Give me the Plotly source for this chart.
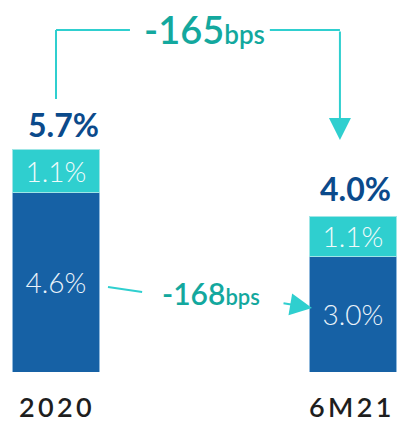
import plotly.graph_objects as go

categories = ["2020", "6M21"]
core_values = [4.6, 2.95]
other_values = [1.1, 1.05]
core_labels = ["4.6%", "3.0%"]
other_labels = ["1.1%", "1.1%"]
total_labels = ["5.7%", "4.0%"]
change_total = "-165"
change_core = "-168"

DARK = "#1661a5"
LIGHT = "#2fcfcf"
TEAL_TEXT = "#13a89e"
NAVY = "#0b4a8b"
FONT = "Lato"

xs = list(range(len(categories)))
totals = [a + b for a, b in zip(core_values, other_values)]

fig = go.Figure()
fig.add_trace(go.Bar(
    x=xs, y=core_values, width=0.29, marker=dict(color=DARK, line=dict(color="#8fb8dc", width=1)),
    text=core_labels, textposition="inside", insidetextanchor="middle",
    textfont=dict(family=FONT, size=28, color="#eaf3fa", weight=300), hoverinfo="skip",
))
fig.add_trace(go.Bar(
    x=xs, y=other_values, width=0.29, marker=dict(color=LIGHT, line=dict(color="#9fe6e6", width=1)),
    text=other_labels, textposition="inside", insidetextanchor="middle",
    textfont=dict(family=FONT, size=28, color="#f0fbfb", weight=300), hoverinfo="skip",
))

ann = []
for i, (c, t, lab) in enumerate(zip(categories, totals, total_labels)):
    ann.append(dict(x=i, y=t, xref="x", yref="y", text=f"<b>{lab}</b>", showarrow=False,
                    yanchor="middle", yshift=25 if i == 0 else 28, xshift=7 if i == 0 else 2,
                    font=dict(family=FONT, size=32, color=NAVY)))
    ann.append(dict(x=i, y=0, xref="x", yref="paper", text="\u2009".join(c), showarrow=False,
                    yanchor="top", yshift=-16, xshift=-1 if i == 0 else -3,
                    font=dict(family=FONT, size=27, color="#1e1e1e", weight=600)))

# bracket for total change
top_y = max(totals) + 3.07
left_bottom = totals[0] + 1.3
right_x = 0.956
arrow_tip = totals[1] + 1.95
line_style = dict(color=LIGHT, width=2)
shapes = [
    dict(type="line", xref="x", yref="y", x0=0, x1=0, y0=left_bottom, y1=top_y, line=line_style),
    dict(type="line", xref="x", yref="y", x0=0, x1=0.249, y0=top_y, y1=top_y, line=line_style),
    dict(type="line", xref="x", yref="y", x0=0.72, x1=right_x, y0=top_y, y1=top_y, line=line_style),
    dict(type="line", xref="x", yref="y", x0=0.175, x1=0.29, y0=2.18, y1=2.05, line=line_style),
]
ann.append(dict(x=right_x, y=arrow_tip, ax=right_x, ay=top_y, xref="x", yref="y", axref="x", ayref="y",
                text="", showarrow=True, arrowhead=2, arrowsize=2.2, arrowwidth=2, arrowcolor=LIGHT))
ann.append(dict(x=0.862, y=1.64, ax=0.761, ay=1.77, xref="x", yref="y", axref="x", ayref="y",
                text="", showarrow=True, arrowhead=2, arrowsize=2.2, arrowwidth=2, arrowcolor=LIGHT))
ann.append(dict(x=0.5, y=top_y, xref="x", yref="y", showarrow=False, yanchor="middle", yshift=1,
                text=f"{change_total}<span style='font-size:26px'>bps</span>",
                font=dict(family=FONT, size=38, color=TEAL_TEXT, weight=600)))
ann.append(dict(x=0.522, y=2.03, xref="x", yref="y", showarrow=False, yanchor="middle",
                text=f"{change_core}<span style='font-size:22px'>bps</span>",
                font=dict(family=FONT, size=30, color=TEAL_TEXT, weight=600)))

fig.update_layout(
    barmode="stack", width=400, height=424, showlegend=False,
    margin=dict(l=0, r=0, t=0, b=52),
    paper_bgcolor="white", plot_bgcolor="white",
    xaxis=dict(visible=False, range=[-56 / 297, 1 + 47 / 297]),
    yaxis=dict(visible=False, range=[0, 372 / 39]),
    annotations=ann, shapes=shapes, uniformtext=dict(mode=False),
)
fig.write_html("out.html")
